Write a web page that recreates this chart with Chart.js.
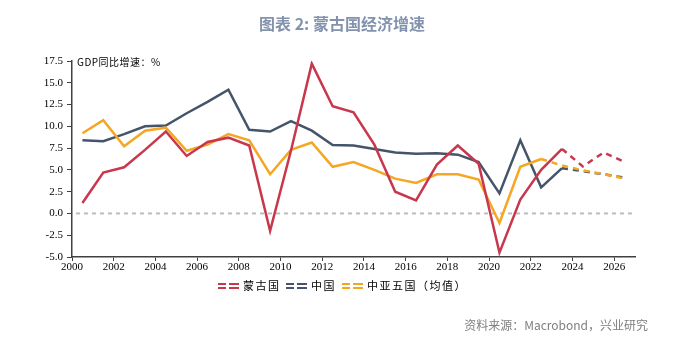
<!DOCTYPE html>
<html><head><meta charset="utf-8">
<script src="https://cdn.jsdelivr.net/npm/chart.js@4/dist/chart.umd.min.js"></script>
<style>html,body{margin:0;padding:0;background:#fff;}#wrap{width:690px;height:345px;position:relative;}</style>
</head><body><div id="wrap"><canvas id="c" width="690" height="345"></canvas></div>
<script>
const years = [2000,2001,2002,2003,2004,2005,2006,2007,2008,2009,2010,2011,2012,2013,2014,2015,2016,2017,2018,2019,2020,2021,2022,2023,2024,2025,2026];
const mongolia = [1.2,4.7,5.3,7.3,9.4,6.6,8.2,8.7,7.8,-2.0,7.2,17.2,12.3,11.6,7.9,2.5,1.5,5.6,7.8,5.7,-4.5,1.6,5.0,7.4,5.4,7.0,5.9];
const china = [8.4,8.3,9.1,10.0,10.1,11.5,12.8,14.2,9.6,9.4,10.6,9.5,7.85,7.8,7.4,7.0,6.85,6.9,6.75,5.9,2.3,8.4,3.0,5.2,4.85,4.5,4.1];
const centralAsia = [9.2,10.7,7.7,9.5,9.85,7.2,7.9,9.1,8.4,4.5,7.3,8.15,5.35,5.9,5.0,4.0,3.5,4.5,4.5,3.9,-1.1,5.35,6.25,5.5,4.95,4.5,4.0];
const seriesNames = ['蒙古国','中国','中亚五国（均值）'];
const forecastFrom = [2024,2024,2023]; // first year drawn dashed (segment ending there)
const yTicks = [-5,-2.5,0,2.5,5,7.5,10,12.5,15,17.5];
const xTickYears = [2000,2002,2004,2006,2008,2010,2012,2014,2016,2018,2020,2022,2024,2026];
const colors = ['#C8374C','#44546A','#F5A623'];

function pts(arr){ return years.map((y,i)=>({x:y+0.5,y:arr[i]})); }
function mk(i, arr, order){
  return {
    label: seriesNames[i], data: pts(arr), borderColor: colors[i], backgroundColor: colors[i],
    borderWidth: 2.5, pointRadius: 0, tension: 0, order: order,
    segment: { borderDash: ctx => (years[ctx.p1DataIndex] >= forecastFrom[i]) ? [6,5] : undefined }
  };
}

const overlay = {
  id:'overlay',
  beforeDatasetsDraw(chart){
    const ctx = chart.ctx, ys = chart.scales.y, a = chart.chartArea;
    const y0 = ys.getPixelForValue(0);
    ctx.save(); ctx.strokeStyle='#BDBDBD'; ctx.lineWidth=2; ctx.setLineDash([4,4]);
    ctx.beginPath(); ctx.moveTo(a.left+4,y0); ctx.lineTo(a.right,y0); ctx.stroke(); ctx.restore();
  },
  afterDraw(chart){
    const ctx = chart.ctx;
    ctx.save();
    // title
    ctx.fillStyle='#8393AE'; ctx.font='bold 16px "Noto Sans CJK SC"'; ctx.textAlign='center'; ctx.textBaseline='middle';
    ctx.fillText('图表 2: 蒙古国经济增速', 342, 24);
    // y axis title
    ctx.fillStyle='#000'; ctx.font='10px "Noto Sans CJK SC"'; ctx.textAlign='left';
    ctx.letterSpacing='0.5px';
    ctx.fillText('GDP同比增速：%', 77, 62);
    // legend
    ctx.font='11px "Noto Sans CJK SC"'; ctx.letterSpacing='1.5px';
    const items = [{x:218,t:seriesNames[0]},{x:286,t:seriesNames[1]},{x:342,t:seriesNames[2]}];
    items.forEach((it,i)=>{
      ctx.strokeStyle=colors[i]; ctx.lineWidth=2;
      [284,288].forEach(yy=>{
        ctx.beginPath(); ctx.moveTo(it.x,yy); ctx.lineTo(it.x+8,yy); ctx.moveTo(it.x+11,yy); ctx.lineTo(it.x+21,yy); ctx.stroke();
      });
      ctx.fillStyle='#000'; ctx.fillText(it.t, it.x+25, 286);
    });
    // source
    ctx.letterSpacing='0px';
    ctx.fillStyle='#7F7F7F'; ctx.font='12px "Noto Sans CJK SC"'; ctx.textAlign='right';
    ctx.fillText('资料来源：Macrobond，兴业研究', 648, 325);
    ctx.restore();
  }
};

new Chart(document.getElementById('c'), {
  type:'line',
  data:{ datasets:[ mk(0,mongolia,0), mk(1,china,2), mk(2,centralAsia,1) ] },
  options:{
    responsive:false, animation:false,
    layout:{ padding:{ top:61, right:55, bottom:0, left:0 } },
    plugins:{ legend:{display:false}, tooltip:{enabled:false} },
    scales:{
      x:{ type:'linear', min:2000, max:2027,
        afterBuildTicks: s => { s.ticks = xTickYears.map(v=>({value:v})); },
        afterFit: s => { s.height = 88; },
        grid:{ drawOnChartArea:false, drawTicks:true, tickLength:4, color:'#404040', lineWidth:1 },
        border:{ color:'#404040', width:1.5 },
        ticks:{ color:'#000', font:{family:'"Liberation Serif"', size:11}, padding:0, maxRotation:0, autoSkip:false, callback:v=>String(v) }
      },
      y:{ type:'linear', min:-5, max:17.5,
        afterBuildTicks: s => { s.ticks = yTicks.map(v=>({value:v})); },
        afterFit: s => { s.width = 72; },
        grid:{ drawOnChartArea:false, drawTicks:true, tickLength:5, color:'#404040', lineWidth:1 },
        border:{ color:'#404040', width:1.5 },
        ticks:{ color:'#000', font:{family:'"Liberation Serif"', size:11}, padding:4, callback:v=>Number(v).toFixed(1) }
      }
    }
  },
  plugins:[overlay]
});
</script></body></html>
